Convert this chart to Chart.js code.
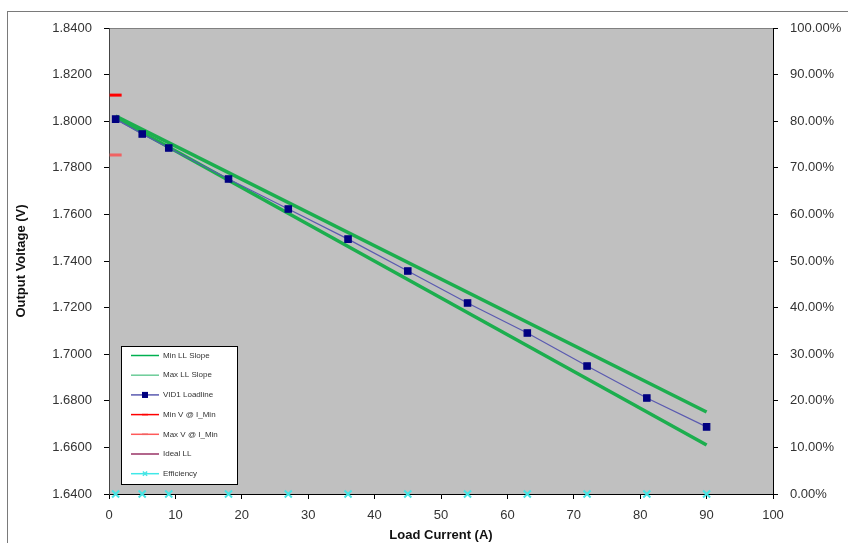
<!DOCTYPE html>
<html>
<head>
<meta charset="utf-8">
<script src="https://cdn.jsdelivr.net/npm/chart.js@4/dist/chart.umd.min.js"></script>
<style>
  html, body { margin: 0; padding: 0; background: #fff; }
  #wrap { width: 848px; height: 543px; }
</style>
</head>
<body>
<div id="wrap"><canvas id="loadline" width="848" height="543"></canvas></div>
<script>
// load current points (A)
const currents = [1, 5, 9, 18, 27, 36, 45, 54, 63, 72, 81, 90];
// measured VID1 loadline (V)
const vid1Volts = [1.8009, 1.7945, 1.7885, 1.7752, 1.7623, 1.7494, 1.7357, 1.7220, 1.7091, 1.6949, 1.6812, 1.6688];
// slope limits, end points only
const slopeX = [1, 90];
const minSlopeVolts = [1.8015, 1.6610];
const maxSlopeVolts = [1.8022, 1.6752];
// limits at I_Min
const iMin = 1;
const minVAtIMin = 1.8112;
const maxVAtIMin = 1.7855;
// efficiency (all zero in this capture)
const efficiency = [0, 0, 0, 0, 0, 0, 0, 0, 0, 0, 0, 0];

const yTicks = [1.64, 1.66, 1.68, 1.70, 1.72, 1.74, 1.76, 1.78, 1.80, 1.82, 1.84];
const effTicks = [0, 0.1, 0.2, 0.3, 0.4, 0.5, 0.6, 0.7, 0.8, 0.9, 1.0];

const FONT = 'Arial, "Liberation Sans", sans-serif';
const TXT = '#333333';

function pts(xs, ys) {
    return xs.map((x, i) => ({ x: x, y: ys[i] }));
}

const plotBg = {
    id: 'plotBg',
    beforeDraw(chart) {
        const { ctx, chartArea: a } = chart;
        ctx.save();
        ctx.strokeStyle = '#7a7a7a';
        ctx.lineWidth = 1;
        ctx.strokeRect(7.5, 11.5, 860, 600);
        ctx.fillStyle = '#c0c0c0';
        ctx.fillRect(a.left, a.top, a.right - a.left, a.bottom - a.top);
        ctx.strokeStyle = '#808080';
        ctx.strokeRect(a.left + 0.5, a.top + 0.5, a.right - a.left, a.bottom - a.top);
        ctx.restore();
    }
};

// legend box drawn inside the plot, bottom-left
const boxLegend = {
    id: 'boxLegend',
    afterDraw(chart) {
        const ctx = chart.ctx;
        const x0 = 121, y0 = 346, w = 116, h = 138;
        ctx.save();
        ctx.fillStyle = '#ffffff';
        ctx.fillRect(x0, y0, w, h);
        ctx.strokeStyle = '#000';
        ctx.lineWidth = 1;
        ctx.strokeRect(x0 + 0.5, y0 + 0.5, w, h);
        ctx.font = '8px ' + FONT;
        ctx.textBaseline = 'middle';
        chart.data.datasets.forEach((ds, i) => {
            const y = y0 + 9.5 + i * 19.7;
            ctx.strokeStyle = ds.legendColor || ds.borderColor;
            ctx.lineWidth = 1.5;
            ctx.beginPath();
            ctx.moveTo(131, y);
            ctx.lineTo(159, y);
            ctx.stroke();
            if (ds.legendMarker) {
                ctx.fillStyle = ds.pointBackgroundColor || ds.borderColor;
                ctx.strokeStyle = ds.pointBorderColor || ds.borderColor;
                Chart.helpers.drawPoint(ctx, {
                    pointStyle: ds.pointStyle,
                    radius: ds.legendMarker,
                    borderWidth: ds.pointBorderWidth || 1,
                    rotation: 0
                }, 145, y);
                if (ds.pointStyle === 'rect') {
                    ctx.fillRect(142, y - 3, 6, 6);
                }
            }
            ctx.fillStyle = TXT;
            ctx.fillText(ds.label, 163, y);
        });
        ctx.restore();
    }
};

new Chart(document.getElementById('loadline'), {
    type: 'scatter',
    data: {
        datasets: [
            {
                label: 'Min LL Slope',
                data: pts(slopeX, minSlopeVolts),
                showLine: true,
                borderColor: '#1cae4e',
                legendColor: '#00b050',
                borderWidth: 3.5,
                pointRadius: 0,
                order: 2,
                yAxisID: 'y'
            },
            {
                label: 'Max LL Slope',
                data: pts(slopeX, maxSlopeVolts),
                showLine: true,
                borderColor: '#1cae4e',
                legendColor: '#6ccc98',
                borderWidth: 3.5,
                pointRadius: 0,
                order: 2,
                yAxisID: 'y'
            },
            {
                label: 'VID1 Loadline',
                data: pts(currents, vid1Volts),
                showLine: true,
                borderColor: '#5a5ab0',
                borderWidth: 1.2,
                pointStyle: 'rect',
                pointRadius: 4.5,
                pointBackgroundColor: '#000080',
                pointBorderColor: '#000080',
                legendMarker: 3,
                order: 0,
                yAxisID: 'y'
            },
            {
                label: 'Min V @ I_Min',
                data: [{ x: iMin, y: minVAtIMin }],
                borderColor: '#ff0000',
                pointStyle: 'line',
                pointRadius: 6,
                pointBorderWidth: 3,
                pointBorderColor: '#ff0000',
                legendMarker: 3,
                order: 1,
                yAxisID: 'y'
            },
            {
                label: 'Max V @ I_Min',
                data: [{ x: iMin, y: maxVAtIMin }],
                borderColor: '#ff5a5a',
                pointStyle: 'line',
                pointRadius: 6,
                pointBorderWidth: 3,
                pointBorderColor: '#f06262',
                legendMarker: 3,
                order: 1,
                yAxisID: 'y'
            },
            {
                label: 'Ideal LL',
                data: [],
                showLine: true,
                borderColor: '#993366',
                borderWidth: 1,
                pointRadius: 0,
                order: 1,
                yAxisID: 'y'
            },
            {
                label: 'Efficiency',
                data: pts(currents, efficiency),
                showLine: false,
                borderColor: '#40e8e8',
                pointStyle: 'crossRot',
                pointRadius: 5,
                pointBorderWidth: 2,
                pointBorderColor: '#48e4e4',
                legendMarker: 3,
                clip: false,
                order: 1,
                yAxisID: 'y2'
            }
        ]
    },
    options: {
        responsive: false,
        animation: false,
        layout: { padding: { top: 28, left: 0, right: 0, bottom: 0 } },
        plugins: {
            legend: { display: false },
            tooltip: { enabled: false }
        },
        scales: {
            x: {
                type: 'linear',
                position: 'bottom',
                min: 0,
                max: 100,
                ticks: { stepSize: 10, padding: 9, color: TXT, font: { family: FONT, size: 13 } },
                grid: { drawOnChartArea: false, tickLength: 5, color: '#000' },
                border: { color: '#000' },
                title: {
                    display: true,
                    text: 'Load Current (A)',
                    color: '#111',
                    font: { family: FONT, size: 13, weight: 'bold' },
                    padding: { top: 5, bottom: 0 }
                },
                afterFit: (s) => { s.height = 49; }
            },
            y: {
                type: 'linear',
                position: 'left',
                min: 1.64,
                max: 1.84,
                afterBuildTicks: (s) => { s.ticks = yTicks.map(v => ({ value: v })); },
                ticks: {
                    padding: 12,
                    color: TXT,
                    font: { family: FONT, size: 13 },
                    callback: (v) => Number(v).toFixed(4)
                },
                grid: { drawOnChartArea: false, tickLength: 5, color: '#000' },
                border: { color: '#444' },
                title: {
                    display: true,
                    text: 'Output Voltage (V)',
                    color: '#111',
                    font: { family: FONT, size: 13, weight: 'bold' },
                    padding: { top: 14, bottom: 0 }
                },
                afterFit: (s) => { s.width = 109; }
            },
            y2: {
                type: 'linear',
                position: 'right',
                min: 0,
                max: 1,
                afterBuildTicks: (s) => { s.ticks = effTicks.map(v => ({ value: v })); },
                ticks: {
                    padding: 12,
                    color: TXT,
                    font: { family: FONT, size: 13 },
                    callback: (v) => (Number(v) * 100).toFixed(2) + '%'
                },
                grid: { drawOnChartArea: false, tickLength: 5, color: '#000' },
                border: { color: '#000' },
                afterFit: (s) => { s.width = 75; }
            }
        }
    },
    plugins: [plotBg, boxLegend]
});
</script>
</body>
</html>
